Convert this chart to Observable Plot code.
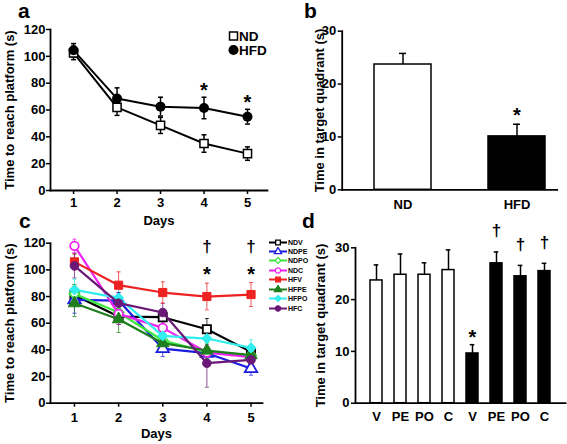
<!DOCTYPE html>
<html><head><meta charset="utf-8">
<script src="https://cdn.jsdelivr.net/npm/d3@7"></script>
<script src="https://cdn.jsdelivr.net/npm/@observablehq/plot@0.6"></script>
<style>
body{margin:0;background:#fff;}
#wrap{position:relative;width:567px;height:444px;overflow:hidden;font-family:"Liberation Sans",Arial,Helvetica,sans-serif;font-weight:bold;color:#000;}
#wrap svg.plot{position:absolute;}
.letter{position:absolute;font-size:21px;line-height:21px;font-weight:bold;}
.leg{position:absolute;}
.leg .row{display:flex;align-items:center;white-space:nowrap;}
.leg svg{display:block;}
</style></head>
<body><div id="wrap"></div>
<script>
// ---------- data ----------
const days = [1, 2, 3, 4, 5];
// panel a
const ndA = [102.5, 62, 48.5, 35, 27.5];
const ndASem = [5, 6, 6, 6.5, 5];
const hfdA = [104.5, 68.5, 62.5, 61.5, 55];
const hfdASem = [5, 8, 7, 8, 5.5];
const sigDaysA = [4, 5];
const yTicksA = [0, 20, 40, 60, 80, 100, 120];
// panel b
const groupsB = ["ND", "HFD"];
const meanB = [23.7, 10.1];
const semB = [2.1, 2.3];
const sigB = ["HFD"];
const yTicksB = [0, 10, 20, 30];
// panel c
const seriesC = ["NDV", "NDPE", "NDPO", "NDC", "HFV", "HFPE", "HFPO", "HFC"];
const colorsC = ["#000000", "#1c1ce0", "#3ee63e", "#ee22ee", "#ee2222", "#1e7e1e", "#33eeee", "#6a1a76"];
const symbolsC = ["square", "triangle", "diamond2", "circle", "square", "triangle", "diamond2", "circle"];
const openC = [true, true, true, true, false, false, false, false];
const ndvC = [81, 65, 64.5, 55.5, 38.5];
const ndpeC = [77.5, 77, 41, 37.5, 26];
const ndpoC = [82, 68, 47, 38.5, 36];
const ndcC = [118, 67, 56.5, 38, 34.5];
const hfvC = [106, 88.5, 83, 80, 81.5];
const hfpeC = [75, 63, 45, 39.5, 36];
const hfpoC = [85, 79, 50.5, 48.5, 41.5];
const hfcC = [103, 75, 68, 30, 32.5];
const ndvSem = [8, 6, 6, 8, 5];
const ndpeSem = [10, 6, 6, 5, 5];
const ndpoSem = [7, 7, 5, 6, 5];
const ndcSem = [5, 8, 7, 6, 6];
const hfvSem = [6, 10, 8, 10, 9];
const hfpeSem = [10, 10, 6, 6, 6];
const hfpoSem = [8, 7, 6, 7, 6];
const hfcSem = [9, 8, 7, 18, 6];
const sigDaysC = [4, 5];
const yTicksC = [0, 20, 40, 60, 80, 100, 120];
// panel d
const groupsD = ["NDV", "NDPE", "NDPO", "NDC", "HFV", "HFPE", "HFPO", "HFC"];
const labelsD = ["V", "PE", "PO", "C", "V", "PE", "PO", "C"];
const meanD = [23.7, 24.8, 24.8, 25.7, 9.6, 27.0, 24.5, 25.5];
const semD = [3.0, 4.0, 2.3, 3.9, 1.7, 2.2, 2.1, 1.5];
const fillD = ["white", "white", "white", "white", "black", "black", "black", "black"];
const starD = ["HFV"];
const daggerD = ["HFPE", "HFPO", "HFC"];
const yTicksD = [0, 10, 20, 30];

// ---------- helpers ----------
const FONT = '"Liberation Sans", Arial, Helvetica, sans-serif';
const style = () => ({fontFamily: FONT, fontSize: "13px", fontWeight: "bold", color: "#000", background: "transparent", overflow: "visible"});
const capSym = {draw(ctx, size) { const w = Math.sqrt(size / Math.PI); ctx.moveTo(-w, 0); ctx.lineTo(w, 0); }};
const wrap = document.getElementById("wrap");
function place(svg, left, top) { svg.classList.add("plot"); svg.style.left = left + "px"; svg.style.top = top + "px"; wrap.appendChild(svg); }
function letter(t, left, top) { const d = document.createElement("div"); d.className = "letter"; d.textContent = t; d.style.left = left + "px"; d.style.top = top + "px"; wrap.appendChild(d); }
const T = {textAnchor: "middle", lineAnchor: "middle", fontWeight: "bold"};

// ---------- panel a ----------
const xDomA = [0.47, 5.46];
const dataA = days.flatMap((d, i) => [
  {day: d, g: "ND", v: ndA[i], s: ndASem[i]},
  {day: d, g: "HFD", v: hfdA[i], s: hfdASem[i]}
]);
const plotA = Plot.plot({
  width: 285, height: 228, marginLeft: 50, marginRight: 18, marginTop: 29, marginBottom: 38,
  style: style(),
  x: {domain: xDomA}, y: {domain: [0, 120]},
  marks: [
    Plot.axisY({ticks: yTicksA, tickSize: 4, tickPadding: 1, tickFormat: d => d, label: null, strokeWidth: 1.5}),
    Plot.axisX({ticks: days, tickSize: 4, tickPadding: 3, tickFormat: d => d, label: null, strokeWidth: 1.5}),
    Plot.frame({anchor: "left", strokeWidth: 1.8}),
    Plot.frame({anchor: "bottom", strokeWidth: 1.8}),
    Plot.text(["Time to reach platform (s)"], {...T, frameAnchor: "left", dx: -40.5, rotate: -90, fontSize: 13}),
    Plot.text(["Days"], {...T, frameAnchor: "bottom", dy: 30, fontSize: 13}),
    Plot.ruleX(dataA, {x: "day", y1: d => d.v - d.s, y2: d => d.v + d.s, strokeWidth: 1.5}),
    Plot.dot(dataA, {x: "day", y: d => d.v + d.s, symbol: capSym, r: 2.5, fill: "none", stroke: "black", strokeWidth: 1.5}),
    Plot.dot(dataA, {x: "day", y: d => d.v - d.s, symbol: capSym, r: 2.5, fill: "none", stroke: "black", strokeWidth: 1.5}),
    Plot.line(dataA, {x: "day", y: "v", z: "g", stroke: "black", strokeWidth: 2}),
    Plot.dot(dataA.filter(d => d.g === "ND"), {x: "day", y: "v", symbol: "square", r: 4.6, fill: "white", stroke: "black", strokeWidth: 1.5}),
    Plot.dot(dataA.filter(d => d.g === "HFD"), {x: "day", y: "v", symbol: "circle", r: 5, fill: "black"}),
    Plot.text(dataA.filter(d => d.g === "HFD" && sigDaysA.includes(d.day)), {...T, x: "day", y: d => d.v + d.s, text: () => "*", dy: -7, fontSize: 20})
  ]
});
place(plotA, 0, 0);

// panel a legend
(function(){
  const leg = document.createElement("div"); leg.className = "leg";
  leg.style.left = "228px"; leg.style.top = "29px"; leg.style.fontSize = "13.5px";
  const sq = d3.symbol(d3.symbolSquare, 64)();
  const ci = d3.symbol(d3.symbolCircle, 80)();
  leg.innerHTML =
    `<div class="row" style="height:14px"><svg width="11" height="12" viewBox="-5.5 -6 11 12"><path d="${sq}" fill="white" stroke="black" stroke-width="1.5"/></svg><span>ND</span></div>` +
    `<div class="row" style="height:14px"><svg width="11" height="12" viewBox="-5.5 -6 11 12"><path d="${ci}" fill="black"/></svg><span>HFD</span></div>`;
  wrap.appendChild(leg);
})();

// ---------- panel b ----------
const dataB = groupsB.map((g, i) => ({g, v: meanB[i], s: semB[i]}));
const plotB = Plot.plot({
  width: 277, height: 228, marginLeft: 51.7, marginRight: 10.3, marginTop: 30.7, marginBottom: 38.7,
  style: style(),
  x: {domain: groupsB, paddingInner: 0.5, paddingOuter: 0.186, align: 0.727},
  y: {domain: [0, 30]},
  marks: [
    Plot.axisY({ticks: yTicksB, tickSize: 4, tickPadding: 2, tickFormat: d => d, label: null, strokeWidth: 1.5}),
    Plot.axisX({tickSize: 0, tickPadding: 10, label: null}),
    Plot.ruleX(dataB, {x: "g", y1: "v", y2: d => d.v + d.s, strokeWidth: 1.5}),
    Plot.tickY(dataB, {x: "g", y: d => d.v + d.s, strokeWidth: 1.5, insetLeft: 25, insetRight: 25}),
    Plot.barY(dataB, {x: "g", y: "v", fill: d => d.g === "ND" ? "white" : "black", stroke: "black", strokeWidth: 1.5}),
    Plot.frame({anchor: "left", strokeWidth: 1.8}),
    Plot.frame({anchor: "bottom", strokeWidth: 1.8}),
    Plot.text(["Time in target quadrant (s)"], {...T, frameAnchor: "left", dx: -22, rotate: -90, fontSize: 13}),
    Plot.text(dataB.filter(d => sigB.includes(d.g)), {...T, x: "g", y: d => d.v + d.s, text: () => "*", dy: -8.7, fontSize: 20})
  ]
});
place(plotB, 290, 0);

// ---------- panel c ----------
const xDomC = [0.457, 5.26];
const valsC = [ndvC, ndpeC, ndpoC, ndcC, hfvC, hfpeC, hfpoC, hfcC];
const semsC = [ndvSem, ndpeSem, ndpoSem, ndcSem, hfvSem, hfpeSem, hfpoSem, hfcSem];
const dataC = seriesC.flatMap((s, k) => days.map((d, i) => ({series: s, k, day: d, v: valsC[k][i], s: semsC[k][i]})));
const marksC = [
  Plot.axisY({ticks: yTicksC, tickSize: 4, tickPadding: 1, tickFormat: d => d, label: null, strokeWidth: 1.5}),
  Plot.axisX({ticks: days, tickSize: 4, tickPadding: 6, tickFormat: d => d, label: null, strokeWidth: 1.5}),
  Plot.frame({anchor: "left", strokeWidth: 1.8}),
  Plot.frame({anchor: "bottom", strokeWidth: 1.8}),
  Plot.text(["Time to reach platform (s)"], {...T, frameAnchor: "left", dx: -40.5, rotate: -90, fontSize: 13}),
  Plot.text(["Days"], {...T, frameAnchor: "bottom", dy: 30.5, fontSize: 13}),
  Plot.ruleX(dataC, {x: "day", y1: d => d.v - d.s, y2: d => d.v + d.s, stroke: d => colorsC[d.k], strokeWidth: 1, strokeOpacity: 0.75}),
  Plot.dot(dataC, {x: "day", y: d => d.v + d.s, symbol: capSym, r: 2, fill: "none", stroke: d => colorsC[d.k], strokeWidth: 1, strokeOpacity: 0.75}),
  Plot.dot(dataC, {x: "day", y: d => d.v - d.s, symbol: capSym, r: 2, fill: "none", stroke: d => colorsC[d.k], strokeWidth: 1, strokeOpacity: 0.75})
];
seriesC.forEach((s, k) => {
  const sub = dataC.filter(d => d.k === k);
  marksC.push(Plot.line(sub, {x: "day", y: "v", stroke: colorsC[k], strokeWidth: 2.2}));
  marksC.push(Plot.dot(sub, {x: "day", y: "v", symbol: symbolsC[k], r: symbolsC[k] === "circle" ? 4.3 : 4.6,
    fill: openC[k] ? "white" : colorsC[k], stroke: colorsC[k], strokeWidth: openC[k] ? 1.8 : 1}));
});
marksC.push(Plot.text(sigDaysC, {...T, x: d => d, frameAnchor: "top", text: () => "\u2020", dy: 3.5, fontSize: 17}));
marksC.push(Plot.text(sigDaysC, {...T, x: d => d, frameAnchor: "top", text: () => "*", dy: 31.5, fontSize: 20}));
const plotC = Plot.plot({
  width: 290, height: 224, marginLeft: 50, marginRight: 28, marginTop: 22.7, marginBottom: 41.3,
  style: style(),
  x: {domain: xDomC}, y: {domain: [0, 120]},
  marks: marksC
});
place(plotC, 0, 220);

// panel c legend
(function(){
  const leg = document.createElement("div"); leg.className = "leg";
  leg.style.left = "268px"; leg.style.top = "237.3px"; leg.style.fontSize = "7px";
  const d3sym = {square: d3.symbolSquare, triangle: d3.symbolTriangle, diamond2: d3.symbolDiamond2, circle: d3.symbolCircle};
  let html = "";
  seriesC.forEach((s, k) => {
    const p = d3.symbol(d3sym[symbolsC[k]], 22)();
    html += `<div class="row" style="height:9.45px"><svg width="20" height="9" viewBox="-10 -4.5 20 9"><line x1="-9" x2="9" y1="0" y2="0" stroke="${colorsC[k]}" stroke-width="2"/><path d="${p}" fill="${openC[k] ? "white" : colorsC[k]}" stroke="${colorsC[k]}" stroke-width="1.3"/></svg><span>${s}</span></div>`;
  });
  leg.innerHTML = html;
  wrap.appendChild(leg);
})();

// ---------- panel d ----------
const dataD = groupsD.map((g, i) => ({g, v: meanD[i], s: semD[i], f: fillD[i]}));
const plotD = Plot.plot({
  width: 277, height: 224, marginLeft: 65, marginRight: 2, marginTop: 27.3, marginBottom: 41.3,
  style: style(),
  x: {domain: groupsD, paddingInner: 0.5, paddingOuter: 0.5},
  y: {domain: [0, 30]},
  marks: [
    Plot.axisY({ticks: yTicksD, tickSize: 4, tickPadding: 2, tickFormat: d => d, label: null, strokeWidth: 1.5}),
    Plot.axisX({tickSize: 0, tickPadding: 9, label: null, tickFormat: d => labelsD[groupsD.indexOf(d)]}),
    Plot.ruleX(dataD, {x: "g", y1: "v", y2: d => d.v + d.s, strokeWidth: 1.5}),
    Plot.tickY(dataD, {x: "g", y: d => d.v + d.s, strokeWidth: 1.5, insetLeft: 3.7, insetRight: 3.7}),
    Plot.barY(dataD, {x: "g", y: "v", fill: "f", stroke: "black", strokeWidth: 1.5}),
    Plot.frame({anchor: "left", strokeWidth: 1.8}),
    Plot.frame({anchor: "bottom", strokeWidth: 1.8}),
    Plot.text(["Time in target quadrant (s)"], {...T, frameAnchor: "left", dx: -35, rotate: -90, fontSize: 13}),
    Plot.text(dataD.filter(d => starD.includes(d.g)), {...T, x: "g", y: d => d.v + d.s, text: () => "*", dy: -7.5, fontSize: 20}),
    Plot.text(dataD.filter(d => daggerD.includes(d.g)), {...T, x: "g", y: d => d.v + d.s, text: () => "\u2020", dy: -21, fontSize: 17})
  ]
});
place(plotD, 290, 220);

// panel letters
letter("a", 18, 0);
letter("b", 304, 0);
letter("c", 19, 210);
letter("d", 302, 210);
</script>
</body></html>
